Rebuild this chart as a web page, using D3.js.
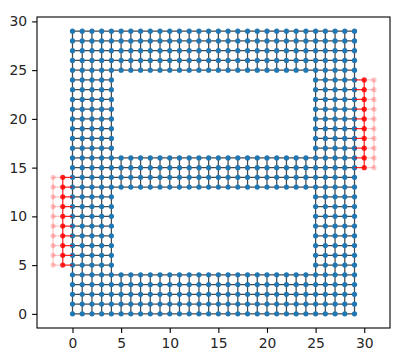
<!DOCTYPE html>
<html><head><meta charset="utf-8">
<script src="https://cdn.jsdelivr.net/npm/d3@7"></script>
<style>body{margin:0;background:#fff}svg{display:block}</style>
</head><body>
<script>
// Grid graph made of rectangular blocks of nodes (inclusive ranges)
const gridBlocks = [
  {x:[0,29], y:[0,4]},    // bottom band
  {x:[0,4],  y:[0,29]},   // left column
  {x:[25,29],y:[0,29]},   // right column
  {x:[0,29], y:[13,16]},  // middle band
  {x:[0,29], y:[25,29]}   // top band
];
// Attached red chains (strong = red, faint = pink)
const redChains = [
  {x:-1, y:[5,14],  anchor:0,  strong:true},
  {x:-2, y:[5,14],  anchor:-1, strong:false},
  {x:30, y:[15,24], anchor:29, strong:true},
  {x:31, y:[15,24], anchor:30, strong:false}
];
const xTicks = [0,5,10,15,20,25,30];
const yTicks = [0,5,10,15,20,25,30];
const xDomain = [-3.65, 32.65];
const yDomain = [-1.45, 30.45];

const W = 413, H = 361;
const m = {left:37, right:390, top:17, bottom:328};
const svg = d3.select("body").append("svg").attr("width",W).attr("height",H);
const x = d3.scaleLinear().domain(xDomain).range([m.left, m.right]);
const y = d3.scaleLinear().domain(yDomain).range([m.bottom, m.top]);

// build grid nodes
const key = (a,b)=>a+","+b;
const nodes = new Map();
gridBlocks.forEach(b=>{
  for(let i=b.x[0];i<=b.x[1];i++) for(let j=b.y[0];j<=b.y[1];j++) nodes.set(key(i,j),[i,j]);
});
const gridEdges = [];
nodes.forEach(([i,j])=>{
  if(nodes.has(key(i+1,j))) gridEdges.push([[i,j],[i+1,j]]);
  if(nodes.has(key(i,j+1))) gridEdges.push([[i,j],[i,j+1]]);
});

const g = svg.append("g");
g.selectAll("line.ge").data(gridEdges).join("line")
  .attr("x1",d=>x(d[0][0])).attr("y1",d=>y(d[0][1]))
  .attr("x2",d=>x(d[1][0])).attr("y2",d=>y(d[1][1]))
  .attr("stroke","#000").attr("stroke-opacity",0.72).attr("stroke-width",1.25);
g.selectAll("circle.gn").data([...nodes.values()]).join("circle")
  .attr("cx",d=>x(d[0])).attr("cy",d=>y(d[1])).attr("r",2.6)
  .attr("fill","#1f77b4");

// red chains
redChains.forEach(c=>{
  const col = "red", op = c.strong?0.85:0.22;
  const pts = d3.range(c.y[0], c.y[1]+1);
  const edges = [];
  pts.forEach(j=>{
    edges.push([[c.x,j],[c.anchor,j]]);
    if(j<c.y[1]) edges.push([[c.x,j],[c.x,j+1]]);
  });
  g.append("g").selectAll("line").data(edges).join("line")
    .attr("x1",d=>x(d[0][0])).attr("y1",d=>y(d[0][1]))
    .attr("x2",d=>x(d[1][0])).attr("y2",d=>y(d[1][1]))
    .attr("stroke",col).attr("stroke-opacity",op).attr("stroke-width",1.25);
  g.append("g").selectAll("circle").data(pts).join("circle")
    .attr("cx",x(c.x)).attr("cy",d=>y(d)).attr("r",2.6)
    .attr("fill",col).attr("fill-opacity",c.strong?0.85:0.22);
});

// axes
const fs = "13.9px";
const xa = svg.append("g").attr("transform",`translate(0,${m.bottom})`)
  .call(d3.axisBottom(x).tickValues(xTicks).tickSize(4.9).tickPadding(4.9));
const ya = svg.append("g").attr("transform",`translate(${m.left},0)`)
  .call(d3.axisLeft(y).tickValues(yTicks).tickSize(4.9).tickPadding(4.9));
[xa,ya].forEach(a=>{
  a.select(".domain").remove();
  a.selectAll(".tick line").attr("stroke","#000").attr("stroke-width",1.1);
  a.selectAll(".tick text").attr("fill","#262626").style("font-family","DejaVu Sans").style("font-size",fs);
});
svg.append("rect").attr("x",m.left).attr("y",m.top)
  .attr("width",m.right-m.left).attr("height",m.bottom-m.top)
  .attr("fill","none").attr("stroke","#000").attr("stroke-width",1.1);
</script>
</body></html>
